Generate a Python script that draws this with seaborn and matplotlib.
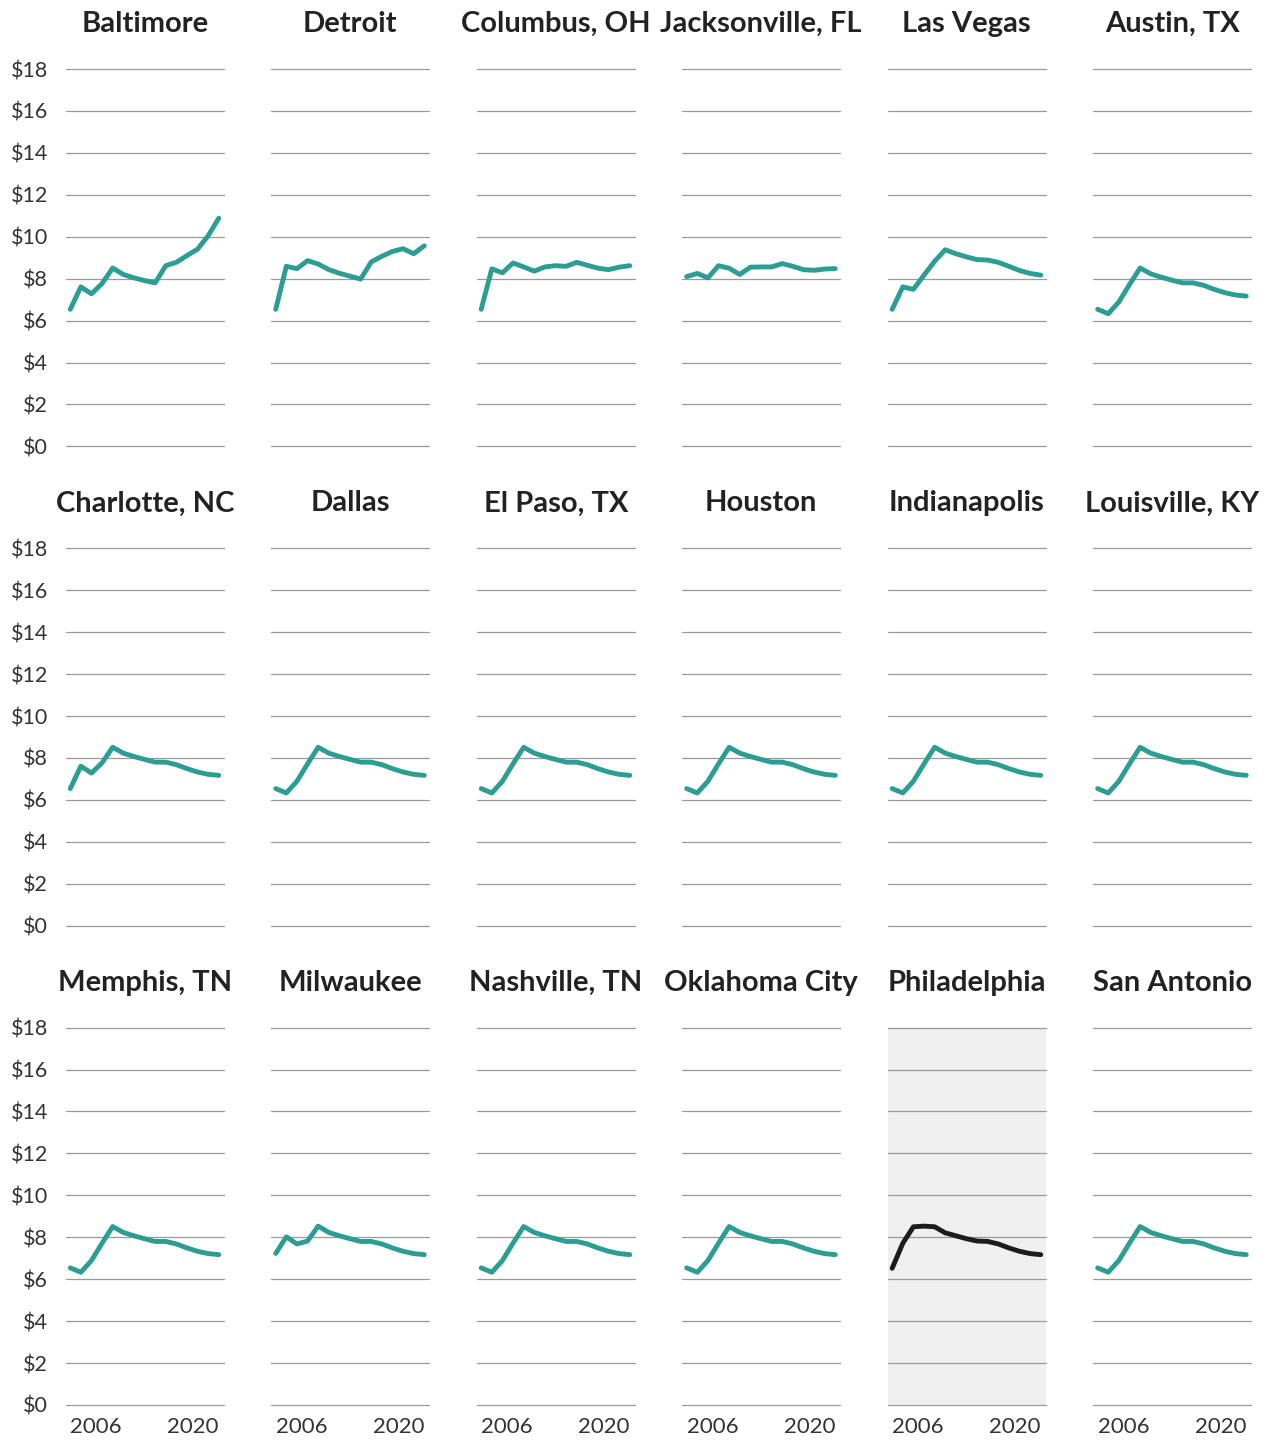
import pandas as pd
import matplotlib.pyplot as plt
import seaborn as sns

# Anos e valores (salário mínimo, em dólares)
years = list(range(2006, 2021))

federal = [6.54, 6.33, 6.89, 7.72, 8.51, 8.23, 8.07, 7.93, 7.80, 7.80, 7.68, 7.49, 7.33, 7.22, 7.17]
baltimore = [6.54, 7.61, 7.28, 7.77, 8.51, 8.20, 8.04, 7.91, 7.80, 8.62, 8.78, 9.10, 9.41, 10.05, 10.89]
detroit = [6.54, 8.59, 8.48, 8.86, 8.70, 8.43, 8.26, 8.12, 7.98, 8.80, 9.07, 9.30, 9.43, 9.19, 9.57]
columbus = [6.54, 8.47, 8.28, 8.75, 8.56, 8.36, 8.56, 8.62, 8.59, 8.78, 8.64, 8.50, 8.43, 8.55, 8.62]
jacksonville = [8.10, 8.25, 8.04, 8.62, 8.50, 8.20, 8.55, 8.56, 8.56, 8.72, 8.59, 8.43, 8.40, 8.46, 8.48]
las_vegas = [6.54, 7.61, 7.49, 8.17, 8.83, 9.38, 9.19, 9.04, 8.91, 8.89, 8.78, 8.59, 8.39, 8.25, 8.17]
charlotte = [6.54, 7.61, 7.28, 7.77, 8.51, 8.23, 8.07, 7.93, 7.80, 7.80, 7.68, 7.49, 7.33, 7.22, 7.17]
milwaukee = [7.23, 8.02, 7.68, 7.82, 8.53, 8.23, 8.07, 7.93, 7.80, 7.80, 7.68, 7.49, 7.33, 7.22, 7.17]
philadelphia = [6.52, 7.71, 8.50, 8.53, 8.50, 8.21, 8.07, 7.93, 7.82, 7.80, 7.68, 7.49, 7.33, 7.22, 7.17]

cities = [
    ('Baltimore', baltimore), ('Detroit', detroit), ('Columbus, OH', columbus),
    ('Jacksonville, FL', jacksonville), ('Las Vegas', las_vegas), ('Austin, TX', federal),
    ('Charlotte, NC', charlotte), ('Dallas', federal), ('El Paso, TX', federal),
    ('Houston', federal), ('Indianapolis', federal), ('Louisville, KY', federal),
    ('Memphis, TN', federal), ('Milwaukee', milwaukee), ('Nashville, TN', federal),
    ('Oklahoma City', federal), ('Philadelphia', philadelphia), ('San Antonio', federal),
]
highlight = 'Philadelphia'

y_ticks = list(range(0, 20, 2))
y_labels = [f'${v}' for v in y_ticks]
x_ticks = [2006, 2020]

sns.set_style("white")
plt.rcParams['font.family'] = ['Lato', 'DejaVu Sans']

fig, axes = plt.subplots(3, 6, figsize=(12.7, 14.44), dpi=100, sharex=True, sharey=True)
fig.subplots_adjust(left=66 / 1270, right=1251 / 1270, top=1 - 69 / 1444,
                    bottom=1 - 1405 / 1444, wspace=48 / 158, hspace=102 / 378)

for ax, (name, values) in zip(axes.flat, cities):
    df = pd.DataFrame({'ano': years, 'valor': values})
    is_hl = name == highlight
    sns.lineplot(data=df, x='ano', y='valor', ax=ax, color='#1c1c1c' if is_hl else '#2b9d92',
                 linewidth=3.5, solid_capstyle='round', solid_joinstyle='round', zorder=3)
    ax.set_facecolor('#efefef' if is_hl else 'white')
    for v in y_ticks:
        ax.axhline(v, color='#999999', linewidth=0.9, zorder=1, clip_on=False)
    ax.set_xlim(2005.6, 2020.45)
    ax.set_ylim(0, 18)
    ax.set_yticks(y_ticks)
    ax.set_yticklabels(y_labels)
    ax.set_xticks(x_ticks)
    ax.set_xticklabels([str(x) for x in x_ticks])
    ax.set_xlabel('')
    ax.set_ylabel('')
    for s in ax.spines.values():
        s.set_visible(False)
    ax.tick_params(axis='y', length=0, pad=13, labelsize=15.5, labelcolor='#333333')
    ax.tick_params(axis='x', length=0, pad=9, labelsize=16, labelcolor='#333333')
    ax.set_title(name, fontsize=21, fontweight='bold', color='#222222', pad=26.5)

# rótulos do eixo x alinhados às pontas
for ax in axes[-1]:
    for lab, ha in zip(ax.get_xticklabels(), ['left', 'right']):
        lab.set_ha(ha)

plt.savefig('out.png', dpi=100)
